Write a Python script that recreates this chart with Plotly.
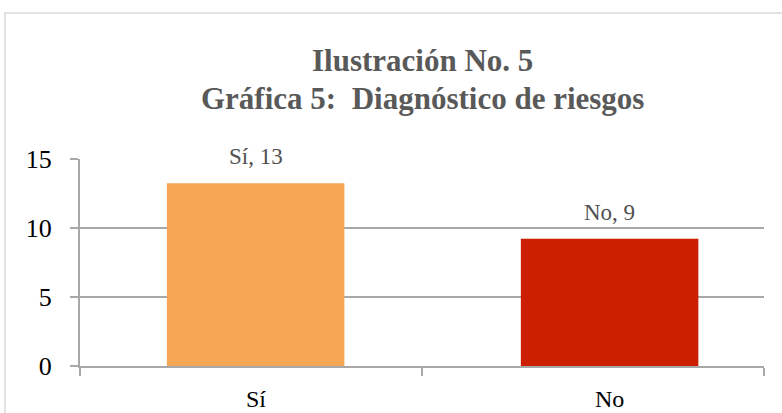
import plotly.graph_objects as go

categories = ["Sí", "No"]
values = [13.25, 9.22]
colors = ["#F7A656", "#CC1F00"]
y_ticks = [0, 5, 10, 15]
title_lines = ["Ilustración No. 5", "Gráfica 5:  Diagnóstico de riesgos"]

SERIF = "Liberation Serif, Times New Roman, serif"

W, H = 782, 413
L, R, T, B = 80, 18, 159, 47
pw, ph = W - L - R, H - T - B


def py(ypix):
    return (H - B - ypix) / ph


def px(xpix):
    return (xpix - L) / pw


bar_w = 0.519
bar_off = [-0.246, -0.211]
centers = [i + o + bar_w / 2 for i, o in enumerate(bar_off)]

fig = go.Figure()
fig.add_trace(go.Bar(
    x=categories, y=values,
    marker=dict(color=colors, line=dict(width=0)),
    width=bar_w, offset=bar_off,
    hoverinfo="skip",
))

# data labels
for c, v, xc in zip(categories, values, centers):
    fig.add_annotation(
        x=xc, y=v, text=f"{c}, {round(v):d}", showarrow=False,
        yanchor="bottom", yshift=12,
        font=dict(family=SERIF, size=23, color="#505050"),
    )

# category labels centered under bars
for c, xc in zip(categories, centers):
    fig.add_annotation(
        x=xc, y=0, yref="paper", text=c, showarrow=False,
        yanchor="middle", yshift=-33,
        font=dict(family=SERIF, size=24, color="#000000"),
    )

# title lines
for t, yp in zip(title_lines, [60, 98]):
    fig.add_annotation(
        x=0.5, xref="paper", y=py(yp), yref="paper", yanchor="middle",
        text=f"<b>{t}</b>", showarrow=False,
        font=dict(family=SERIF, size=31, color="#595959"),
    )

fig.add_shape(type="rect", xref="paper", yref="paper",
              x0=px(5), x1=px(790), y0=py(420), y1=py(13),
              line=dict(color="#d9d9d9", width=1.5), layer="below")

fig.update_layout(
    width=W, height=H,
    margin=dict(l=L, r=R, t=T, b=B),
    paper_bgcolor="white", plot_bgcolor="white",
    showlegend=False,
    font=dict(family=SERIF, size=22, color="#000000"),
)
fig.update_xaxes(
    type="category",
    showline=True, linecolor="#a8a8a8", linewidth=2,
    ticks="outside", tickson="boundaries", ticklen=8, tickcolor="#a8a8a8", tickwidth=2,
    showticklabels=False,
    showgrid=False,
)
fig.update_yaxes(
    range=[0, 15], tickvals=y_ticks,
    showline=True, linecolor="#a8a8a8", linewidth=2,
    ticks="outside", ticklen=8, tickcolor="#a8a8a8", tickwidth=2,
    showgrid=True, gridcolor="#a8a8a8", gridwidth=1.5,
    tickfont=dict(family=SERIF, size=26, color="#000000"),
    ticklabelstandoff=13,
    zeroline=False,
)

fig.write_html("out.html", config={"displayModeBar": False},
               post_script="document.body.style.margin='0px';")
